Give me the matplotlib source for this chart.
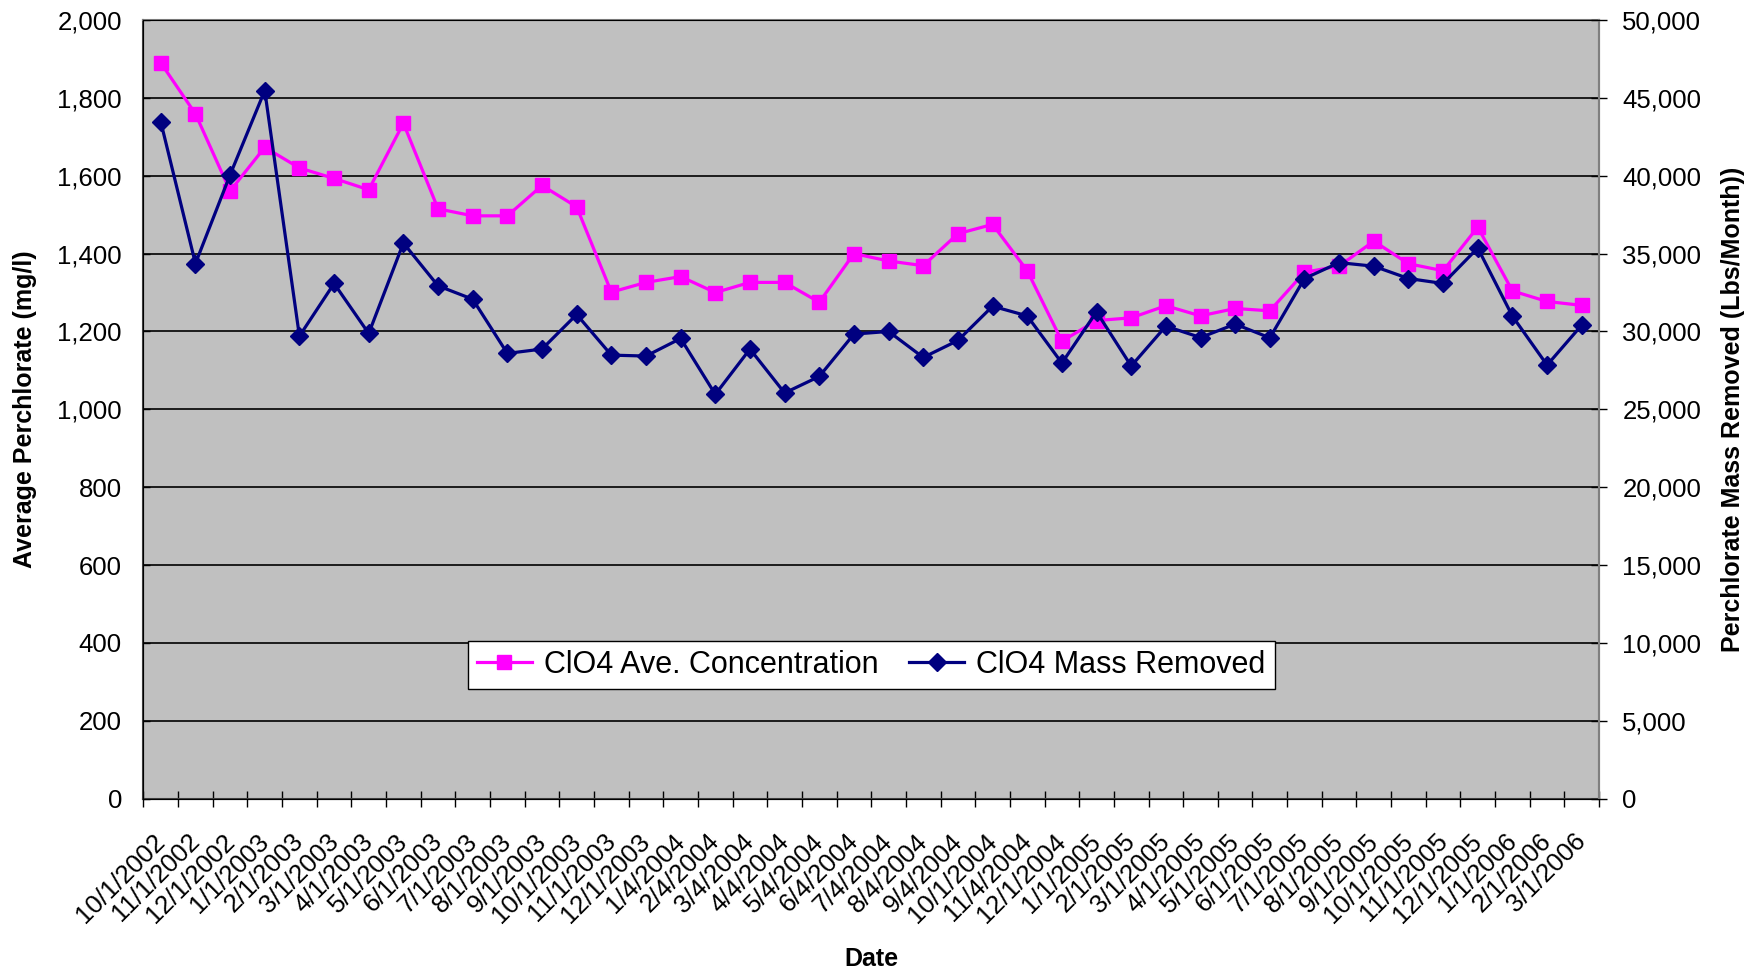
import numpy as np
import matplotlib.pyplot as plt
from matplotlib.ticker import FuncFormatter, FixedLocator
from matplotlib.lines import Line2D
from matplotlib.transforms import ScaledTranslation

plt.rcParams['font.family'] = ['Liberation Sans', 'DejaVu Sans']

# dates as written on the chart
dates = ["10/1/2002", "11/1/2002", "12/1/2002", "1/1/2003", "2/1/2003", "3/1/2003",
         "4/1/2003", "5/1/2003", "6/1/2003", "7/1/2003", "8/1/2003", "9/1/2003",
         "10/1/2003", "11/1/2003", "12/1/2003", "1/4/2004", "2/4/2004", "3/4/2004",
         "4/4/2004", "5/4/2004", "6/4/2004", "7/4/2004", "8/4/2004", "9/4/2004",
         "10/1/2004", "11/4/2004", "12/1/2004", "1/1/2005", "2/1/2005", "3/1/2005",
         "4/1/2005", "5/1/2005", "6/1/2005", "7/1/2005", "8/1/2005", "9/1/2005",
         "10/1/2005", "11/1/2005", "12/1/2005", "1/1/2006", "2/1/2006", "3/1/2006"]

# ClO4 average concentration (mg/l), left axis
conc = [1890, 1759, 1561, 1673, 1620, 1593, 1564, 1735, 1515, 1497, 1497, 1575,
        1520, 1301, 1326, 1341, 1300, 1326, 1326, 1275, 1400, 1381, 1369, 1451,
        1475, 1356, 1175, 1228, 1235, 1266, 1240, 1259, 1253, 1352, 1368, 1432,
        1374, 1356, 1468, 1304, 1277, 1267]

# ClO4 mass removed (Lbs/Month), right axis
mass = [43460, 34360, 40060, 45470, 29700, 33080, 29870, 35680, 32930, 32070, 28590, 28870,
        31090, 28480, 28420, 29550, 25960, 28870, 26050, 27110, 29830, 30000, 28330, 29420,
        31620, 31000, 27970, 31260, 27780, 30340, 29610, 30470, 29590, 33400, 34420, 34190,
        33400, 33080, 35360, 30980, 27840, 30410]

PINK = "#FF00FF"
NAVY = "#000080"
FS = 18.5

fig = plt.figure(figsize=(17.58, 9.72), dpi=100)
ax1 = fig.add_axes([0.0816, 0.1784, 0.828, 0.801])
ax1.set_facecolor("#C0C0C0")

x = np.arange(len(dates))
ax1.plot(x, conc, color=PINK, lw=2.3, marker="s", ms=10, mec=PINK, mfc=PINK, zorder=3)
ax1.set_xlim(-0.5, len(dates) - 0.5)
ax1.set_ylim(0, 2000)
ax1.set_yticks(np.arange(0, 2001, 200))
ax1.yaxis.set_major_formatter(FuncFormatter(lambda v, p: f"{int(v):,}"))
ax1.grid(axis="y", color="black", lw=1.2, zorder=1)
ax1.set_axisbelow(True)

# category labels at centres, tick marks between categories
ax1.set_xticks(x)
ax1.set_xticklabels(dates, rotation=45, ha="right", va="top", rotation_mode="anchor")
ax1.xaxis.set_minor_locator(FixedLocator(np.arange(-0.5, len(dates), 1)))
ax1.tick_params(axis="x", which="major", length=0, pad=22, labelsize=FS)
ax1.tick_params(axis="x", which="minor", length=11.5, direction="inout", width=1)
ax1.tick_params(axis="y", length=5, direction="in", width=1, labelsize=FS, pad=15.5)
shift = ScaledTranslation(-8 / 100, 0, fig.dpi_scale_trans)
for lab in ax1.get_xticklabels():
    lab.set_transform(lab.get_transform() + shift)

for side in ["left", "bottom"]:
    ax1.spines[side].set_color("#404040")
    ax1.spines[side].set_linewidth(1.5)
for side in ["top", "right"]:
    ax1.spines[side].set_color("#808080")
    ax1.spines[side].set_linewidth(1.5)

ax1.set_ylabel("Average Perchlorate (mg/l)", fontsize=18, fontweight="bold")
ax1.yaxis.set_label_coords(-0.0728, 0.5)
ax1.set_xlabel("Date", fontsize=18, fontweight="bold")
ax1.xaxis.set_label_coords(0.5, -0.19)

ax2 = ax1.twinx()
ax2.plot(x, mass, color=NAVY, lw=2.3, marker="D", ms=9, mec=NAVY, mfc=NAVY, zorder=3)
ax2.set_ylim(0, 50000)
ax2.set_yticks(np.arange(0, 50001, 5000))
ax2.yaxis.set_major_formatter(FuncFormatter(lambda v, p: f"{int(v):,}"))
ax2.tick_params(axis="y", length=11.5, direction="inout", width=1, labelsize=FS, pad=11)
ax2.spines["right"].set_color("#808080")
ax2.spines["right"].set_linewidth(1.5)
ax2.set_ylabel("Perchlorate Mass Removed (Lbs/Month))", fontsize=18, fontweight="bold")
ax2.yaxis.set_label_coords(1.0838, 0.5)

handles = [Line2D([], [], color=PINK, lw=2.3, marker="s", ms=10),
           Line2D([], [], color=NAVY, lw=2.3, marker="D", ms=9)]
leg = ax2.legend(handles, ["ClO4 Ave. Concentration", "ClO4 Mass Removed"], ncol=2,
                 loc="center", bbox_to_anchor=(0.5, 0.1716), fontsize=22, frameon=True,
                 fancybox=False, edgecolor="black", framealpha=1, handlelength=1.8,
                 handletextpad=0.4, columnspacing=1.0, borderpad=0.3)
leg.get_frame().set_linewidth(1.0)

fig.savefig("out.png", dpi=100)
